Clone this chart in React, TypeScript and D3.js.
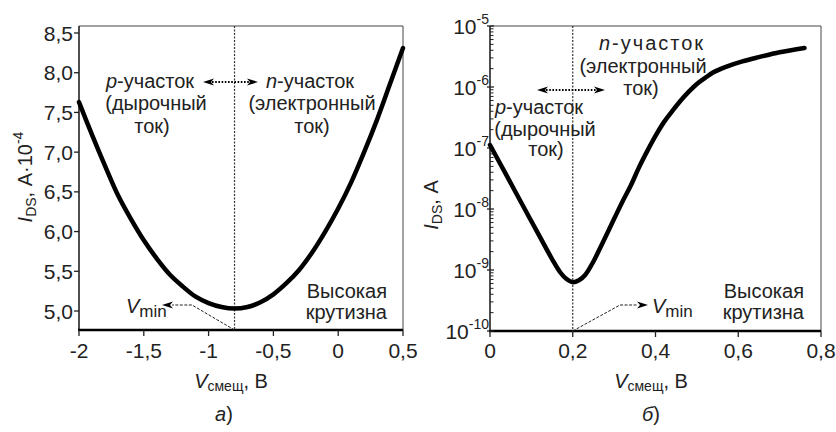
import React from "react";
import * as d3 from "d3";

// ---- Data ----
// Panel a): linear current vs bias
const leftV = [-2.0, -1.9, -1.8, -1.7, -1.6, -1.5, -1.4, -1.3, -1.2, -1.1, -1.0, -0.9, -0.8, -0.7, -0.6, -0.5, -0.4, -0.3, -0.2, -0.1, 0.0, 0.1, 0.2, 0.3, 0.4, 0.5];
const leftI = [7.63, 7.22, 6.83, 6.46, 6.16, 5.89, 5.66, 5.46, 5.31, 5.18, 5.1, 5.05, 5.03, 5.05, 5.11, 5.21, 5.35, 5.52, 5.74, 6.0, 6.29, 6.62, 7.0, 7.41, 7.86, 8.31];
const leftXTicks = [-2, -1.5, -1, -0.5, 0, 0.5];
const leftXLabels = ["-2", "-1,5", "-1", "-0,5", "0", "0,5"];
const leftYTicks = [5.0, 5.5, 6.0, 6.5, 7.0, 7.5, 8.0, 8.5];
const leftYLabels = ["5,0", "5,5", "6,0", "6,5", "7,0", "7,5", "8,0", "8,5"];
const leftVmin = -0.8;

// Panel б): log current vs bias
const rightV = [0.0, 0.04, 0.08, 0.12, 0.15, 0.17, 0.185, 0.2, 0.215, 0.23, 0.25, 0.27, 0.3, 0.32, 0.34, 0.36, 0.38, 0.4, 0.42, 0.44, 0.46, 0.48, 0.5, 0.52, 0.54, 0.57, 0.61, 0.65, 0.7, 0.76];
const rightI = [1.12e-7, 3.55e-8, 1.12e-8, 3.55e-9, 1.51e-9, 9.1e-10, 7.1e-10, 6.3e-10, 6.8e-10, 8.3e-10, 1.38e-9, 2.6e-9, 6.9e-9, 1.32e-8, 2.4e-8, 4.8e-8, 8.9e-8, 1.58e-7, 2.63e-7, 3.98e-7, 5.89e-7, 8.3e-7, 1.12e-6, 1.41e-6, 1.74e-6, 2.14e-6, 2.63e-6, 3.09e-6, 3.72e-6, 4.37e-6];
const rightXTicks = [0, 0.2, 0.4, 0.6, 0.8];
const rightXLabels = ["0", "0,2", "0,4", "0,6", "0,8"];
const rightYExps = [-10, -9, -8, -7, -6, -5];
const rightVmin = 0.2;

const FONT = "'Liberation Sans', Arial, Helvetica, sans-serif";

function Arrowhead({ x, y, dir }: { x: number; y: number; dir: 1 | -1 }) {
  const L = 11, H = 3.6;
  const p = `M${x},${y} L${x - dir * L},${y - H} L${x - dir * (L - 3)},${y} L${x - dir * L},${y + H} Z`;
  return <path d={p} fill="#000" />;
}

function DoubleArrow({ x1, x2, y }: { x1: number; x2: number; y: number }) {
  return (
    <g>
      <line x1={x1 + 9} x2={x2 - 9} y1={y} y2={y} stroke="#000" strokeWidth={1.8} strokeDasharray="1.6,1.6" />
      <Arrowhead x={x1} y={y} dir={-1} />
      <Arrowhead x={x2} y={y} dir={1} />
    </g>
  );
}

export default function App() {
  const xL = d3.scaleLinear().domain([-2, 0.5]).range([79, 403]);
  const yL = d3.scaleLinear().domain([5, 8.5]).range([311, 33]);
  const xR = d3.scaleLinear().domain([0, 0.8]).range([490, 821]);
  const yR = d3.scaleLog().domain([1e-10, 1e-5]).range([331, 26]);

  const Ltop = 26, Lbot = 330, Rtop = 26, Rbot = 331;

  const lineL = d3
    .line<number>()
    .x((_, i) => xL(leftV[i]))
    .y((d) => yL(d))
    .curve(d3.curveCatmullRom.alpha(0.5));
  const lineR = d3
    .line<number>()
    .x((_, i) => xR(rightV[i]))
    .y((d) => yR(d))
    .curve(d3.curveCatmullRom.alpha(0.5));

  const minorTicks: number[] = [];
  for (let e = -10; e < -5; e++) {
    for (let m = 2; m <= 9; m++) minorTicks.push(m * Math.pow(10, e));
  }

  const fs = 20;
  const tfs = 21;
  const subFs = 14;

  const lx = xL(leftVmin);
  const rx = xR(rightVmin);

  return (
    <svg
      width={836}
      height={432}
      style={{ position: "absolute", left: 0, top: 0, background: "#fff" }}
      fontFamily={FONT}
    >
      <rect width={836} height={432} fill="#fff" />

      {/* ===== Panel a ===== */}
      <line x1={xL(-2)} x2={xL(0.5)} y1={Ltop} y2={Ltop} stroke="#444" strokeWidth={1} />
      <line x1={xL(0.5)} x2={xL(0.5)} y1={Ltop} y2={Lbot} stroke="#444" strokeWidth={1} />
      <line x1={xL(-2)} x2={xL(-2)} y1={Ltop} y2={Lbot} stroke="#222" strokeWidth={1.6} />
      <line x1={xL(-2) - 1} x2={xL(0.5)} y1={Lbot} y2={Lbot} stroke="#000" strokeWidth={2.4} />
      {leftYTicks.map((t, i) => (
        <g key={"ly" + i}>
          <line x1={xL(-2) - 5} x2={xL(-2)} y1={yL(t)} y2={yL(t)} stroke="#222" strokeWidth={1.3} />
          <text x={xL(-2) - 6} y={yL(t) + 7.5} textAnchor="end" fontSize={tfs} fill="#222">
            {leftYLabels[i]}
          </text>
        </g>
      ))}
      {leftXTicks.map((t, i) => (
        <g key={"lx" + i}>
          <line x1={xL(t)} x2={xL(t)} y1={Lbot} y2={Lbot + 6} stroke="#222" strokeWidth={1.3} />
          <text x={xL(t)} y={358} textAnchor="middle" fontSize={tfs} fill="#222">
            {leftXLabels[i]}
          </text>
        </g>
      ))}
      <line x1={lx} x2={lx} y1={Ltop} y2={Lbot} stroke="#333" strokeWidth={1.2} strokeDasharray="2,1.5" />
      <path d={lineL(leftI) || ""} fill="none" stroke="#000" strokeWidth={4.5} strokeLinecap="round" />
      <g fontSize={fs} fill="#222">
        <text x={150} y={88} textAnchor="middle">
          <tspan fontStyle="italic">p</tspan>-участок
        </text>
        <text x={156} y={110} textAnchor="middle">(дырочный</text>
        <text x={152} y={133} textAnchor="middle">ток)</text>
        <text x={310} y={88} textAnchor="middle">
          <tspan fontStyle="italic">n</tspan>-участок
        </text>
        <text x={312} y={110} textAnchor="middle">(электронный</text>
        <text x={312} y={133} textAnchor="middle">ток)</text>
        <text x={387} y={298} textAnchor="end">Высокая</text>
        <text x={387} y={319} textAnchor="end">крутизна</text>
      </g>
      <DoubleArrow x1={203} x2={258} y={82} />
      <polyline points={`${lx},${Lbot} 192,305 172,305`} fill="none" stroke="#222" strokeWidth={1} strokeDasharray="3,1.5" />
      <Arrowhead x={162} y={305} dir={-1} />
      <text x={126} y={313} fontSize={fs} fill="#222">
        <tspan fontStyle="italic">V</tspan>
        <tspan fontSize={17} dy={4}>min</tspan>
      </text>
      <text transform="translate(32,177) rotate(-90)" textAnchor="middle" fontSize={fs} fill="#222">
        <tspan fontStyle="italic">I</tspan>
        <tspan fontSize={subFs} dy={4}>DS</tspan>
        <tspan dy={-4}>, А·10</tspan>
        <tspan fontSize={subFs} dy={-9}>-4</tspan>
      </text>
      <text x={231} y={388} textAnchor="middle" fontSize={fs} fill="#222">
        <tspan fontStyle="italic">V</tspan>
        <tspan fontSize={subFs} dy={3}>смещ</tspan>
        <tspan dy={-3}>, В</tspan>
      </text>
      <text x={224} y={421} textAnchor="middle" fontSize={fs} fill="#222">
        <tspan fontStyle="italic">а</tspan>)
      </text>

      {/* ===== Panel б ===== */}
      <line x1={xR(0)} x2={xR(0.8)} y1={Rtop} y2={Rtop} stroke="#444" strokeWidth={1} />
      <line x1={xR(0.8)} x2={xR(0.8)} y1={Rtop} y2={Rbot} stroke="#444" strokeWidth={1} />
      <line x1={xR(0)} x2={xR(0)} y1={Rtop} y2={Rbot} stroke="#222" strokeWidth={1.6} />
      <line x1={xR(0) - 1} x2={xR(0.8)} y1={Rbot} y2={Rbot} stroke="#000" strokeWidth={2.4} />
      {minorTicks.map((t, i) => (
        <line key={"mt" + i} x1={xR(0)} x2={xR(0) + 3.5} y1={yR(t)} y2={yR(t)} stroke="#222" strokeWidth={1} />
      ))}
      {rightYExps.map((e, i) => {
        const y = yR(Math.pow(10, e));
        return (
          <g key={"ry" + i}>
            <line x1={xR(0) - 3} x2={xR(0) + 4} y1={y} y2={y} stroke="#222" strokeWidth={1.3} />
            <text x={xR(0) - 1} y={y + 7.5} textAnchor="end" fontSize={tfs} fill="#222">
              10
              <tspan fontSize={subFs} dy={-10}>{String(e)}</tspan>
            </text>
          </g>
        );
      })}
      {rightXTicks.map((t, i) => (
        <g key={"rx" + i}>
          <line x1={xR(t)} x2={xR(t)} y1={Rbot} y2={Rbot + 6} stroke="#222" strokeWidth={1.3} />
          <text x={xR(t)} y={358} textAnchor="middle" fontSize={tfs} fill="#222">
            {rightXLabels[i]}
          </text>
        </g>
      ))}
      <line x1={rx} x2={rx} y1={Rtop} y2={Rbot} stroke="#333" strokeWidth={1.2} strokeDasharray="2,1.5" />
      <path d={lineR(rightI) || ""} fill="none" stroke="#000" strokeWidth={4.5} strokeLinecap="round" />
      <g fontSize={fs} fill="#222">
        <text x={652} y={50} textAnchor="middle" letterSpacing={2}>
          <tspan fontStyle="italic">n</tspan>-участок
        </text>
        <text x={643} y={73} textAnchor="middle">(электронный</text>
        <text x={641} y={95} textAnchor="middle">ток)</text>
        <text x={539} y={114} textAnchor="middle">
          <tspan fontStyle="italic">p</tspan>-участок
        </text>
        <text x={545} y={136} textAnchor="middle">(дырочный</text>
        <text x={546} y={156} textAnchor="middle">ток)</text>
        <text x={804} y={298} textAnchor="end">Высокая</text>
        <text x={804} y={319} textAnchor="end">крутизна</text>
      </g>
      <DoubleArrow x1={537} x2={605} y={90} />
      <polyline points={`${rx},${Rbot} 620,305 638,305`} fill="none" stroke="#222" strokeWidth={1} strokeDasharray="3,1.5" />
      <Arrowhead x={648} y={305} dir={1} />
      <text x={652} y={313} fontSize={fs} fill="#222">
        <tspan fontStyle="italic">V</tspan>
        <tspan fontSize={17} dy={4}>min</tspan>
      </text>
      <text transform="translate(438,205) rotate(-90)" textAnchor="middle" fontSize={fs} fill="#222">
        <tspan fontStyle="italic">I</tspan>
        <tspan fontSize={subFs} dy={4}>DS</tspan>
        <tspan dy={-4}>, А</tspan>
      </text>
      <text x={651} y={388} textAnchor="middle" fontSize={fs} fill="#222">
        <tspan fontStyle="italic">V</tspan>
        <tspan fontSize={subFs} dy={3}>смещ</tspan>
        <tspan dy={-3}>, В</tspan>
      </text>
      <text x={651} y={421} textAnchor="middle" fontSize={fs} fill="#222">
        <tspan fontStyle="italic">б</tspan>)
      </text>
    </svg>
  );
}
